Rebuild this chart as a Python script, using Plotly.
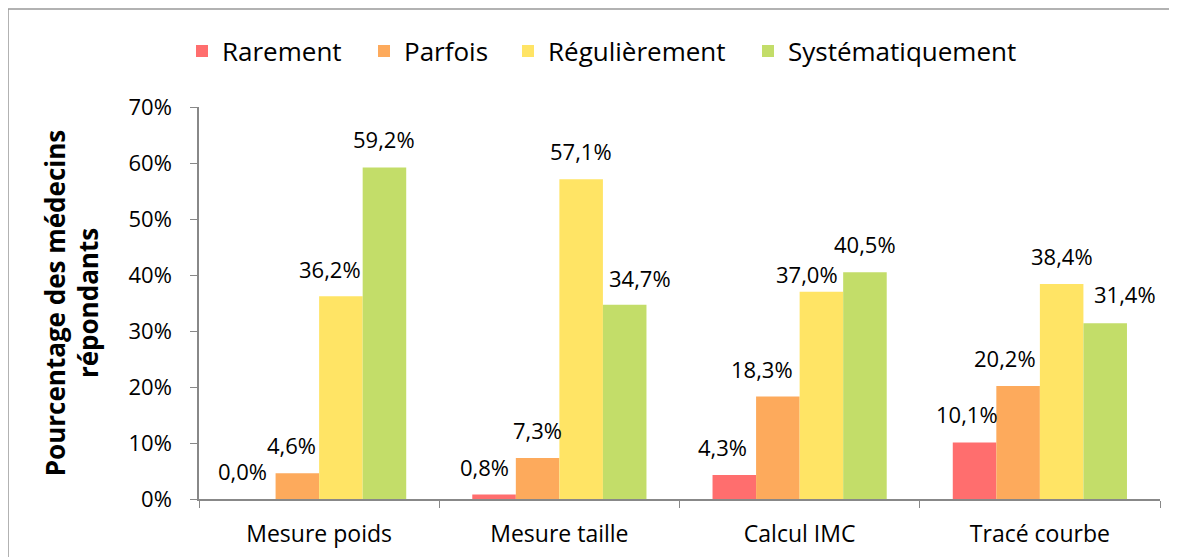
import plotly.graph_objects as go

categories = ["Mesure poids", "Mesure taille", "Calcul IMC", "Tracé courbe"]
series_names = ["Rarement", "Parfois", "Régulièrement", "Systématiquement"]
rarement = [0.0, 0.8, 4.3, 10.1]
parfois = [4.6, 7.3, 18.3, 20.2]
regulierement = [36.2, 57.1, 37.0, 38.4]
systematiquement = [59.2, 34.7, 40.5, 31.4]
colors = ["#FF6E6E", "#FDAA5C", "#FFE465", "#C3DD69"]
y_ticks = [0, 10, 20, 30, 40, 50, 60, 70]
y_ticktext = ["0%", "10%", "20%", "30%", "40%", "50%", "60%", "70%"]

# label nudges (pixels) mimicking the reference's label placement
label_dx = [[-11, -10, -12, -8],
            [-6, 0, -16, -13],
            [-11, 0, -14, 0],
            [0, 15, 0, 20]]
label_dy = [[11, 11, 11, 11],
            [11, 11, 11, 11],
            [10, 11, 1, 11],
            [11, 10, 11, 12]]

FONT = "Open Sans, Lato, sans-serif"
W, H = 1177, 557
OFF = 8  # page offset of the figure (body margin)
PX_L, PX_R, PX_T, PX_B = 199, 1160, 107, 499
L = PX_L - OFF
R = W - (PX_R - OFF)
T = PX_T - OFF
B = H - (PX_B - OFF)
PW = PX_R - PX_L
PH = PX_B - PX_T
BARGAP = 0.275

def px_x(px):
    return (px - PX_L) / PW

def px_y(py):
    return (PX_B - py) / PH

legend_px = [182, 364, 508, 748]
legend_keys = ["legend", "legend2", "legend3", "legend4"]

all_series = [rarement, parfois, regulierement, systematiquement]
n = len(all_series)
cat_w = PW / len(categories)
bar_w = cat_w * (1 - BARGAP) / n

fig = go.Figure()
annotations = []
for i, (name, vals, col, lk) in enumerate(zip(series_names, all_series, colors, legend_keys)):
    fig.add_trace(go.Bar(
        name=name, x=categories, y=vals,
        marker=dict(color=col, line=dict(width=0)),
        cliponaxis=False,
        legend=lk,
    ))
    offset = (i - (n - 1) / 2) * bar_w
    for j, (c, v) in enumerate(zip(categories, vals)):
        annotations.append(dict(
            x=c, y=v, xref="x", yref="y",
            text=f"{v:.1f}%".replace(".", ","),
            showarrow=False, xanchor="center", yanchor="bottom",
            xshift=offset + label_dx[i][j], yshift=label_dy[i][j],
            font=dict(family=FONT, size=22, color="#000000"),
        ))

legend_common = dict(orientation="h", yanchor="middle", xanchor="left",
                     font=dict(family=FONT, size=26, color="#000000"),
                     bgcolor="rgba(0,0,0,0)", borderwidth=0)
layout_legends = {}
for lk, lpx in zip(legend_keys, legend_px):
    layout_legends[lk] = dict(legend_common, x=px_x(lpx), y=px_y(51))

fig.update_layout(
    width=W, height=H,
    barmode="group", bargap=BARGAP, bargroupgap=0,
    separators=", ",
    paper_bgcolor="white", plot_bgcolor="white",
    margin=dict(l=L, r=R, t=T, b=B, autoexpand=False),
    font=dict(family=FONT, size=20, color="#000000"),
    showlegend=True,
    annotations=annotations,
    xaxis=dict(showline=True, linecolor="#888888", linewidth=1.5, automargin=False,
               ticks="outside", tickson="boundaries", ticklen=7, tickcolor="#888888",
               ticklabelstandoff=14,
               tickfont=dict(family=FONT, size=23), showgrid=False),
    yaxis=dict(range=[0, 70], tickvals=y_ticks, ticktext=y_ticktext, automargin=False,
               showline=True, linecolor="#888888", linewidth=1.5,
               ticks="outside", ticklen=7, tickcolor="#888888",
               ticklabelstandoff=14,
               tickfont=dict(family=FONT, size=22), showgrid=False, zeroline=False,
               title=dict(text="<b>Pourcentage des médecins<br>répondants</b>",
                          font=dict(family=FONT, size=26), standoff=22)),
    shapes=[
        dict(type="line", xref="paper", yref="paper", x0=px_x(8), x1=px_x(1250), y0=px_y(9), y1=px_y(9),
             line=dict(color="#999999", width=1.5)),
        dict(type="line", xref="paper", yref="paper", x0=px_x(8), x1=px_x(8), y0=px_y(9), y1=px_y(650),
             line=dict(color="#999999", width=1.5)),
    ],
    **layout_legends,
)

fig.write_html("out.html")
